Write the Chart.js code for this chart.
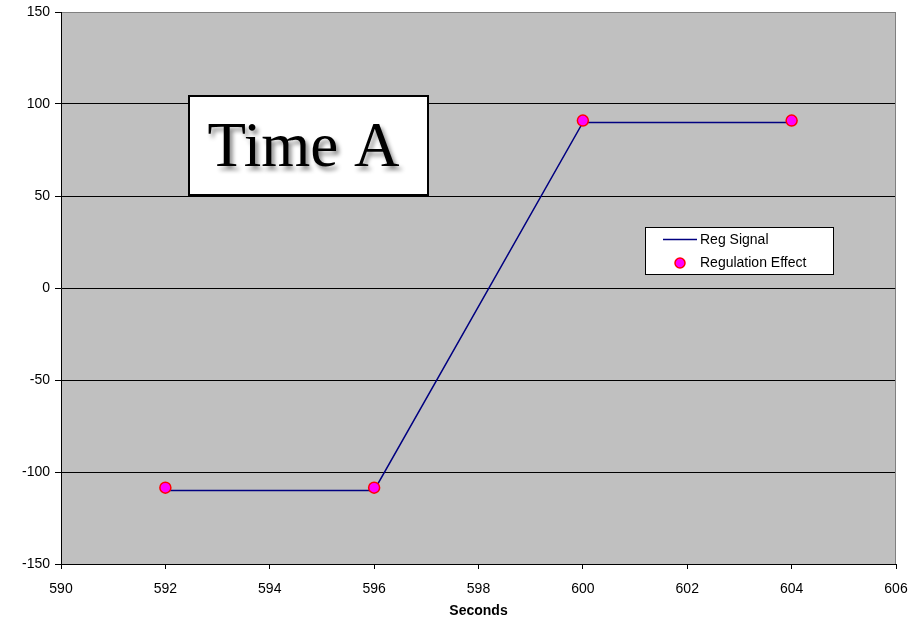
<!DOCTYPE html>
<html>
<head>
<meta charset="utf-8">
<script src="https://cdn.jsdelivr.net/npm/chart.js@4.4.1/dist/chart.umd.min.js"></script>
<style>
  html, body { margin: 0; padding: 0; background: #fff; }
  #wrap { width: 912px; height: 624px; }
</style>
</head>
<body>
<div id="wrap"><canvas id="chart" width="912" height="624"></canvas></div>
<script>
// Data
const regSeconds = [592, 596, 600, 604];
const regSignal = [-110, -110, 90, 90];
const effectSeconds = [592, 596, 600, 604];
const regEffect = [-108.5, -108.5, 91, 91];
const xTicks = [590, 592, 594, 596, 598, 600, 602, 604, 606];
const yTicks = [-150, -100, -50, 0, 50, 100, 150];

const FONT = "'Liberation Sans', Arial, sans-serif";

// Grey plot background and frame
const plotBackground = {
  id: 'plotBackground',
  beforeDraw(chart) {
    const { ctx, chartArea: a } = chart;
    ctx.save();
    ctx.fillStyle = '#c0c0c0';
    ctx.fillRect(a.left, a.top, a.right - a.left, a.bottom - a.top);
    ctx.restore();
  },
  afterDatasetsDraw(chart) {
    const { ctx, chartArea: a } = chart;
    ctx.save();
    ctx.strokeStyle = '#808080';
    ctx.lineWidth = 1;
    ctx.beginPath();
    ctx.moveTo(a.left + 1, a.top + 0.5);
    ctx.lineTo(a.right - 0.5, a.top + 0.5);
    ctx.lineTo(a.right - 0.5, a.bottom);
    ctx.stroke();
    ctx.restore();
  }
};

// "Time A" box and the legend inside the plot
const overlays = {
  id: 'overlays',
  afterDraw(chart) {
    const { ctx, chartArea: a } = chart;
    ctx.save();

    // Time A box
    const bx = a.left + 128, by = a.top + 84, bw = 239, bh = 99;
    ctx.fillStyle = '#fff';
    ctx.fillRect(bx, by, bw, bh);
    ctx.strokeStyle = '#000';
    ctx.lineWidth = 2;
    ctx.strokeRect(bx, by, bw, bh);
    ctx.font = "63px 'Liberation Serif', 'Times New Roman', serif";
    ctx.textAlign = 'center';
    ctx.textBaseline = 'alphabetic';
    ctx.shadowColor = 'rgba(0,0,0,0.45)';
    ctx.shadowOffsetX = 3;
    ctx.shadowOffsetY = 4;
    ctx.shadowBlur = 4;
    ctx.fillStyle = '#000';
    ctx.fillText('Time A', bx + bw / 2 - 5, by + 70);
    ctx.shadowColor = 'transparent';

    // Legend
    const lx = a.left + 584, ly = a.top + 215, lw = 188, lh = 47;
    ctx.fillStyle = '#fff';
    ctx.fillRect(lx, ly, lw, lh);
    ctx.strokeStyle = '#000';
    ctx.lineWidth = 1;
    ctx.strokeRect(lx + 0.5, ly + 0.5, lw, lh);
    ctx.strokeStyle = '#000080';
    ctx.lineWidth = 1.5;
    ctx.beginPath();
    ctx.moveTo(lx + 18, ly + 12.5);
    ctx.lineTo(lx + 52, ly + 12.5);
    ctx.stroke();
    ctx.fillStyle = '#ff00ff';
    ctx.strokeStyle = '#ff0000';
    ctx.lineWidth = 1.5;
    ctx.beginPath();
    ctx.arc(lx + 35, ly + 36, 5, 0, Math.PI * 2);
    ctx.fill();
    ctx.stroke();
    ctx.fillStyle = '#000';
    ctx.font = '14px ' + FONT;
    ctx.textAlign = 'left';
    ctx.textBaseline = 'middle';
    ctx.fillText('Reg Signal', lx + 55, ly + 13);
    ctx.fillText('Regulation Effect', lx + 55, ly + 36);

    ctx.restore();
  }
};

const ctx = document.getElementById('chart').getContext('2d');
new Chart(ctx, {
  type: 'line',
  data: {
    datasets: [
      {
        label: 'Reg Signal',
        data: regSeconds.map((x, i) => ({ x: x, y: regSignal[i] })),
        borderColor: '#000080',
        borderWidth: 1.5,
        pointRadius: 0,
        fill: false,
        tension: 0,
        order: 2
      },
      {
        label: 'Regulation Effect',
        data: effectSeconds.map((x, i) => ({ x: x, y: regEffect[i] })),
        showLine: false,
        pointRadius: 5.5,
        pointBackgroundColor: '#ff00ff',
        pointBorderColor: '#ff0000',
        pointBorderWidth: 1.5,
        order: 1
      }
    ]
  },
  options: {
    responsive: false,
    animation: false,
    layout: { padding: 0 },
    plugins: {
      legend: { display: false },
      tooltip: { enabled: false }
    },
    scales: {
      x: {
        type: 'linear',
        min: 590,
        max: 606,
        afterBuildTicks(axis) { axis.ticks = xTicks.map(v => ({ value: v })); },
        afterFit(axis) {
          axis.height = 60;
          axis.paddingRight = 16;
        },
        grid: { drawOnChartArea: false, color: '#000', tickLength: 5, tickColor: '#000' },
        border: { color: '#000', width: 1 },
        ticks: { color: '#000', font: { family: FONT, size: 14 }, padding: 12, maxRotation: 0 },
        title: {
          display: true,
          text: 'Seconds',
          color: '#000',
          font: { family: FONT, size: 14, weight: 'bold' },
          padding: { top: 2 }
        }
      },
      y: {
        min: -150,
        max: 150,
        afterBuildTicks(axis) { axis.ticks = yTicks.map(v => ({ value: v })); },
        afterFit(axis) {
          axis.width = 61;
          axis.paddingTop = 12;
        },
        grid: {
          color: (c) => (c.tick && c.tick.value === 150 ? '#808080' : '#000'),
          tickColor: '#000',
          tickLength: 6,
          lineWidth: 1
        },
        border: { color: '#000', width: 1 },
        ticks: { color: '#000', font: { family: FONT, size: 14 }, padding: 5 }
      }
    }
  },
  plugins: [plotBackground, overlays]
});
</script>
</body>
</html>
